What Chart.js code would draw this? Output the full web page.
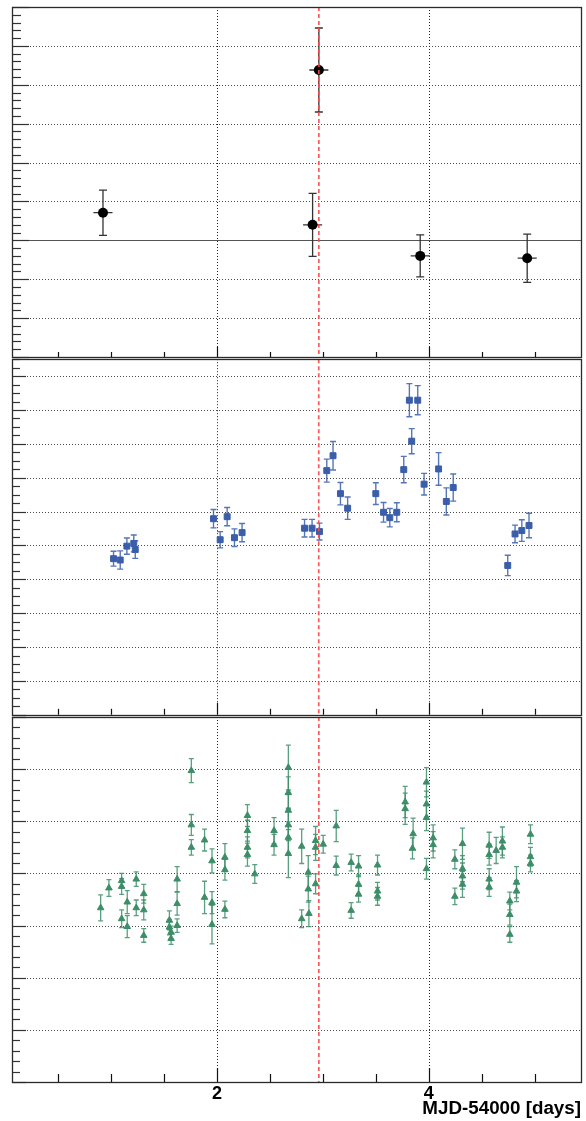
<!DOCTYPE html>
<html>
<head>
<meta charset="utf-8">
<script src="https://cdn.jsdelivr.net/npm/chart.js@4.4.1/dist/chart.umd.min.js"></script>
<style>
  html, body { margin: 0; padding: 0; background: #fff; }
  #wrap { position: relative; width: 586px; height: 1121px; overflow: hidden; }
  canvas { position: absolute; left: 0; }
</style>
</head>
<body>
<div id="wrap">
  <canvas id="c1" width="586" height="362" style="top:0px"></canvas>
  <canvas id="c2" width="586" height="366" style="top:354px"></canvas>
  <canvas id="c3" width="586" height="409" style="top:712px"></canvas>
</div>
<script>
// ---- shared time axis (MJD-54000, days) ----
const X_MIN = 0.065;
const X_MAX = 5.437;
const xTickValues = [0.5, 1, 1.5, 2, 2.5, 3, 3.5, 4, 4.5, 5];
const xLabelValues = [2, 4];
const xTitle = 'MJD-54000 [days]';
const flareTime = 2.962;

// ---- panel 1: nightly averages ----
const nightX    = [0.924, 2.903, 2.962, 3.919, 4.929];
const nightY    = [0.71, 0.40, 4.38, -0.40, -0.46];
const nightErrY = [0.58, 0.81, 1.08, 0.54, 0.62];
const nightErrX = [0.09, 0.09, 0.09, 0.09, 0.09];
const panel1YTicks = [-3, -2, -1, 0, 1, 2, 3, 4, 5, 6];

// ---- panel 2: blue band ----
const blueX = [1.024, 1.087, 1.150, 1.215, 1.229, 1.968, 2.031, 2.097, 2.166, 2.238,
               2.828, 2.899, 2.969, 3.038, 3.097, 3.167, 3.235, 3.501, 3.574, 3.633,
               3.699, 3.765, 3.818, 3.897, 3.840, 3.957, 4.094, 4.167, 4.232, 4.747,
               4.816, 4.880, 4.948];
const blueY = [4.61, 4.57, 4.98, 5.06, 4.88, 5.79, 5.17, 5.85, 5.23, 5.38,
               5.51, 5.51, 5.41, 7.21, 7.65, 6.53, 6.10, 6.53, 5.98, 5.82,
               5.98, 7.24, 9.29, 9.29, 8.08, 6.81, 7.26, 6.30, 6.71, 4.41,
               5.34, 5.44, 5.59];
const blueErr = [0.22, 0.27, 0.24, 0.25, 0.26, 0.27, 0.24, 0.27, 0.26, 0.27,
                 0.26, 0.26, 0.25, 0.34, 0.42, 0.33, 0.33, 0.32, 0.29, 0.27,
                 0.28, 0.39, 0.49, 0.43, 0.37, 0.32, 0.48, 0.40, 0.40, 0.30,
                 0.26, 0.32, 0.36];
const panel2YTicks = [0, 1, 2, 3, 4, 5, 6, 7, 8, 9, 10];

// ---- panel 3: green band ----
const greenX = [0.902, 0.980, 1.100, 1.100, 1.100, 1.153, 1.153, 1.238, 1.238, 1.309,
                1.309, 1.309, 1.551, 1.551, 1.567, 1.567, 1.624, 1.624, 1.624, 1.758,
                1.758, 1.758, 1.883, 1.883, 1.953, 1.953, 1.953, 2.075, 2.075, 2.075,
                2.288, 2.288, 2.288, 2.288, 2.357, 2.539, 2.539, 2.674, 2.674, 2.674,
                2.674, 2.674, 2.674, 2.800, 2.800, 2.862, 2.862, 2.868, 2.931, 2.931,
                2.931, 3.003,
                3.126, 3.126, 3.267, 3.267, 3.337, 3.337, 3.337, 3.516, 3.516, 3.516,
                3.777, 3.777, 3.852, 3.846, 3.978, 3.978, 3.978, 3.978, 4.041, 4.041,
                4.246, 4.246, 4.318, 4.318, 4.318, 4.318, 4.570, 4.570, 4.570, 4.570,
                4.636, 4.695, 4.695, 4.765, 4.765, 4.765, 4.828, 4.828, 4.960, 4.960,
                4.960];
const greenY = [3.34, 3.72, 3.86, 3.75, 3.13, 3.45, 2.98, 3.89, 3.34, 3.61,
                3.30, 2.81, 3.10, 2.97, 2.75, 2.87, 3.89, 3.42, 3.00, 5.97,
                4.93, 4.50, 4.64, 3.54, 4.24, 3.44, 3.02, 4.31, 4.07, 3.31,
                5.11, 4.82, 4.50, 4.36, 3.99, 4.82, 4.55, 6.03, 5.55, 5.21,
                4.93, 4.69, 4.38, 4.52, 3.13, 4.02, 3.70, 3.23, 4.63, 4.50,
                3.80, 4.56,
                4.91, 4.15, 4.21, 3.29, 4.14, 3.79, 3.60, 4.16, 3.66, 3.56,
                5.37, 5.24, 4.76, 4.48, 5.75, 5.33, 5.07, 4.09, 4.68, 4.55,
                4.27, 3.56, 4.57, 4.09, 3.95, 3.79, 4.54, 4.36, 3.89, 3.74,
                4.44, 4.62, 4.50, 3.47, 3.21, 2.83, 3.83, 3.66, 4.75, 4.32,
                4.19];
const greenErr = [0.25, 0.16, 0.14, 0.15, 0.17, 0.22, 0.21, 0.14, 0.15, 0.18,
                  0.19, 0.13, 0.18, 0.15, 0.11, 0.12, 0.24, 0.22, 0.13, 0.23,
                  0.20, 0.15, 0.21, 0.31, 0.23, 0.21, 0.37, 0.26, 0.20, 0.16,
                  0.21, 0.20, 0.20, 0.22, 0.18, 0.25, 0.20, 0.43, 0.30, 0.30,
                  0.30, 0.30, 0.46, 0.33, 0.17, 0.32, 0.25, 0.25, 0.27, 0.25,
                  0.19, 0.17,
                  0.30, 0.18, 0.16, 0.15, 0.20, 0.18, 0.15, 0.19, 0.17, 0.17,
                  0.30, 0.30, 0.30, 0.20, 0.28, 0.25, 0.25, 0.20, 0.25, 0.25,
                  0.18, 0.16, 0.30, 0.25, 0.25, 0.25, 0.25, 0.20, 0.20, 0.18,
                  0.25, 0.27, 0.20, 0.17, 0.20, 0.15, 0.30, 0.20, 0.18, 0.18,
                  0.16];
const panel3YTicks = [0, 1, 2, 3, 4, 5, 6, 7];

const toPoints = (xs, ys) => xs.map((x, i) => ({ x: x, y: ys[i] }));

// Frame, inward ticks, dotted grid, error bars and the flare marker
const panelDecor = {
  id: 'panelDecor',
  beforeDatasetsDraw(chart, args, o) {
    const { ctx, chartArea: a } = chart;
    const xs = chart.scales.x, ys = chart.scales.y;
    ctx.save();
    ctx.beginPath();
    ctx.rect(a.left, a.top, a.right - a.left, a.bottom - a.top);
    ctx.clip();

    // dotted grid at major ticks
    ctx.lineWidth = 1;
    ctx.setLineDash([1, 2]);
    ctx.strokeStyle = '#4a4a4a';
    for (const v of o.yMajor) {
      const py = Math.round(ys.getPixelForValue(v)) + 0.5;
      if (py <= a.top + 2 || py >= a.bottom - 2) continue;
      ctx.beginPath(); ctx.moveTo(a.left, py); ctx.lineTo(a.right, py); ctx.stroke();
    }
    ctx.strokeStyle = '#222';
    for (const v of xLabelValues) {
      const px = Math.round(xs.getPixelForValue(v)) + 0.5;
      ctx.beginPath(); ctx.moveTo(px, a.top); ctx.lineTo(px, a.bottom); ctx.stroke();
    }
    ctx.setLineDash([]);

    if (o.zeroLine) {
      const py = Math.round(ys.getPixelForValue(0)) + 0.5;
      ctx.strokeStyle = '#555';
      ctx.lineWidth = 1.2;
      ctx.beginPath(); ctx.moveTo(a.left, py); ctx.lineTo(a.right, py); ctx.stroke();
    }

    // error bars
    chart.data.datasets.forEach((ds) => {
      if (!ds.errY) return;
      ctx.strokeStyle = ds.errColor;
      ctx.lineWidth = ds.errWidth;
      ds.data.forEach((p, i) => {
        const px = xs.getPixelForValue(p.x);
        const py = ys.getPixelForValue(p.y);
        const yTop = ys.getPixelForValue(p.y + ds.errY[i]);
        const yBot = ys.getPixelForValue(p.y - ds.errY[i]);
        const c = ds.capW;
        ctx.beginPath();
        ctx.moveTo(px, yTop); ctx.lineTo(px, yBot);
        ctx.moveTo(px - c, yTop); ctx.lineTo(px + c, yTop);
        ctx.moveTo(px - c, yBot); ctx.lineTo(px + c, yBot);
        if (ds.errX) {
          ctx.moveTo(xs.getPixelForValue(p.x - ds.errX[i]), py);
          ctx.lineTo(xs.getPixelForValue(p.x + ds.errX[i]), py);
        }
        ctx.stroke();
      });
    });
    ctx.restore();
  },
  afterDatasetsDraw(chart, args, o) {
    const { ctx, chartArea: a } = chart;
    const xs = chart.scales.x, ys = chart.scales.y;
    ctx.save();

    // flare time marker
    const fx = xs.getPixelForValue(flareTime);
    ctx.strokeStyle = 'rgba(255,70,70,0.9)';
    ctx.lineWidth = 1.7;
    ctx.setLineDash([4, 3]);
    ctx.beginPath(); ctx.moveTo(fx, a.top); ctx.lineTo(fx, a.bottom); ctx.stroke();
    ctx.setLineDash([]);

    // y ticks (left, pointing inwards)
    ctx.strokeStyle = '#333';
    ctx.lineWidth = 1.2;
    const step = (o.yMajor[1] - o.yMajor[0]) / o.yMinorDiv;
    const isMajor = v => o.yMajor.some(m => Math.abs(m - v) < 1e-6);
    const tick = (v, len) => {
      const py = Math.round(ys.getPixelForValue(v)) + 0.5;
      ctx.beginPath(); ctx.moveTo(a.left, py); ctx.lineTo(a.left + len, py); ctx.stroke();
    };
    for (let v = o.yMajor[0]; v <= ys.max + 1e-6; v += step) {
      tick(v, isMajor(v) ? o.yMajorLen : o.yMinorLen);
    }
    for (let v = o.yMajor[0] - step; v >= ys.min - 1e-6; v -= step) {
      tick(v, isMajor(v) ? o.yMajorLen : o.yMinorLen);
    }

    // x ticks (bottom, pointing up)
    ctx.strokeStyle = '#111';
    for (const v of xTickValues) {
      const px = Math.round(xs.getPixelForValue(v)) + 0.5;
      const len = xLabelValues.includes(v) ? o.xMajorLen : o.xMinorLen;
      ctx.beginPath(); ctx.moveTo(px, a.bottom); ctx.lineTo(px, a.bottom - len); ctx.stroke();
    }

    // frame
    ctx.strokeStyle = '#2a2a2a';
    ctx.lineWidth = 1.3;
    ctx.strokeRect(Math.round(a.left) + 0.5, Math.round(a.top) + 0.5,
                   Math.round(a.right - a.left), Math.round(a.bottom - a.top));
    ctx.restore();
  }
};
Chart.register(panelDecor);

const hiddenX = { type: 'linear', min: X_MIN, max: X_MAX, display: false };

function panel(canvasId, datasets, yMin, yMax, decor, padding, xScale) {
  return new Chart(document.getElementById(canvasId), {
    type: 'scatter',
    data: { datasets: datasets },
    options: {
      responsive: false,
      animation: false,
      layout: { padding: padding },
      scales: {
        x: xScale,
        y: { type: 'linear', min: yMin, max: yMax, display: false }
      },
      plugins: {
        legend: { display: false },
        tooltip: { enabled: false },
        panelDecor: decor
      }
    }
  });
}

// panel 1
panel('c1', [{
  data: toPoints(nightX, nightY),
  errY: nightErrY, errX: nightErrX,
  errColor: '#333', errWidth: 1.3, capW: 4,
  pointStyle: 'circle', pointRadius: 5, backgroundColor: '#000', borderColor: '#000', borderWidth: 0
}], -3, 6,
{ yMajor: panel1YTicks, yMinorDiv: 5, yMajorLen: 17, yMinorLen: 9, xMajorLen: 10, xMinorLen: 5, zeroLine: true },
{ left: 12, right: 3, top: 7, bottom: 4 }, hiddenX);

// panel 2
panel('c2', [{
  data: toPoints(blueX, blueY),
  errY: blueErr,
  errColor: 'rgba(58,94,170,0.85)', errWidth: 1.4, capW: 3,
  pointStyle: 'rect', pointRadius: 4.2, backgroundColor: '#3a5eaa', borderColor: '#3a5eaa', borderWidth: 1
}], 0, 10.5,
{ yMajor: panel2YTicks, yMinorDiv: 4, yMajorLen: 14, yMinorLen: 8, xMajorLen: 12, xMinorLen: 6, zeroLine: false },
{ left: 12, right: 3, top: 4, bottom: 4 }, hiddenX);

// panel 3 (carries the time axis labels)
panel('c3', [{
  data: toPoints(greenX, greenY),
  errY: greenErr,
  errColor: 'rgba(61,142,104,0.85)', errWidth: 1.3, capW: 2.5,
  pointStyle: 'triangle', pointRadius: 3.8, backgroundColor: '#3d8e68', borderColor: '#3d8e68', borderWidth: 1
}], 0, 7,
{ yMajor: panel3YTicks, yMinorDiv: 5, yMajorLen: 14, yMinorLen: 8, xMajorLen: 14, xMinorLen: 8, zeroLine: false },
{ left: 12, right: 3, top: 4, bottom: 0 },
{
  type: 'linear', min: X_MIN, max: X_MAX, display: true, position: 'bottom',
  grid: { display: false },
  border: { display: false },
  afterBuildTicks: s => { s.ticks = xLabelValues.map(v => ({ value: v })); },
  afterFit: s => { s.height = 39; },
  ticks: {
    autoSkip: false, maxRotation: 0, padding: -7, color: '#000',
    font: { family: '"Liberation Sans", Arial, sans-serif', size: 18, weight: 'bold' },
    callback: v => String(v)
  },
  title: {
    display: true, text: xTitle, align: 'end', color: '#000',
    padding: { top: 0, bottom: 1 },
    font: { family: '"Liberation Sans", Arial, sans-serif', size: 18.8, weight: 'bold' }
  }
});
</script>
</body>
</html>
